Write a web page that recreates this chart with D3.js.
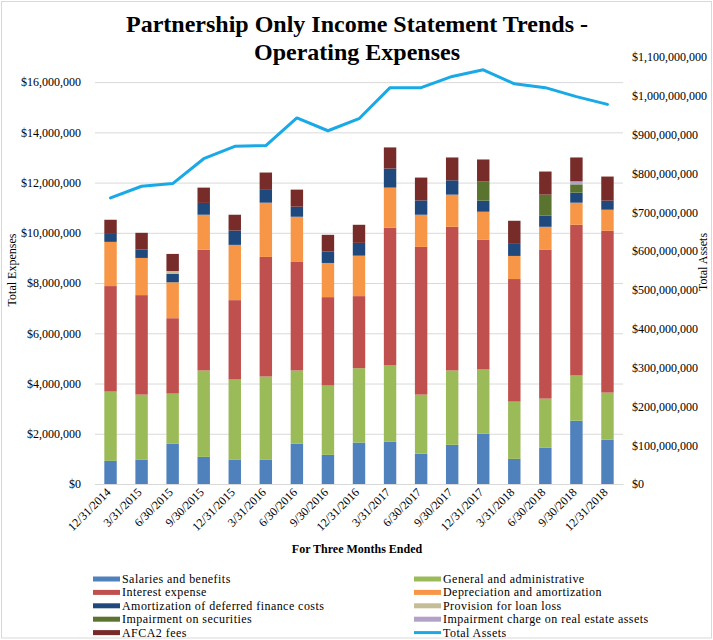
<!DOCTYPE html>
<html lang="en">
<head>
  <meta charset="UTF-8">
  <title>Partnership Only Income Statement Trends - Operating Expenses</title>
  <script src="https://d3js.org/d3.v7.min.js"></script>
  <style>
    body { margin: 0; background: #fff; }
    svg text { font-family: "Liberation Serif", "Times New Roman", serif !important; fill: #000; }
  </style>
</head>
<body>
  <div id="chart"></div>

  <script>
    // Quarter end dates
    const quarters = ["12/31/2014", "3/31/2015", "6/30/2015", "9/30/2015", "12/31/2015", "3/31/2016",
      "6/30/2016", "9/30/2016", "12/31/2016", "3/31/2017", "6/30/2017", "9/30/2017", "12/31/2017",
      "3/31/2018", "6/30/2018", "9/30/2018", "12/31/2018"];

    // Expense series (dollars)
    const salaries = [920000, 960000, 1600000, 1080000, 960000, 960000, 1600000, 1160000, 1650000,
      1690000, 1210000, 1560000, 2000000, 1000000, 1440000, 2520000, 1760000];
    const generalAdmin = [2760000, 2600000, 2000000, 3440000, 3200000, 3320000, 2920000, 2760000, 2960000,
      3030000, 2350000, 2960000, 2560000, 2280000, 1960000, 1800000, 1880000];
    const interest = [4200000, 3960000, 3000000, 4810000, 3160000, 4760000, 4320000, 3520000, 2870000,
      5480000, 5880000, 5720000, 5160000, 4880000, 5920000, 6000000, 6440000];
    const depreciation = [1760000, 1480000, 1430000, 1390000, 2200000, 2160000, 1800000, 1360000, 1610000,
      1600000, 1280000, 1280000, 1120000, 920000, 920000, 880000, 840000];
    const amortization = [350000, 330000, 330000, 470000, 570000, 510000, 400000, 450000, 510000,
      760000, 570000, 570000, 440000, 480000, 440000, 400000, 360000];
    const provision = [0, 0, 120000, 0, 0, 0, 0, 0, 0, 0, 0, 0, 0, 0, 0, 0, 0];
    const impairSecurities = [0, 0, 0, 0, 0, 0, 0, 0, 0, 0, 0, 0, 760000, 0, 840000, 330000, 0];
    const impairRealEstate = [0, 0, 0, 0, 0, 0, 0, 0, 0, 0, 0, 0, 0, 0, 0, 120000, 0];
    const afca2 = [530000, 670000, 680000, 610000, 630000, 690000, 680000, 670000, 720000,
      840000, 910000, 910000, 880000, 920000, 920000, 950000, 960000];

    // Total assets (dollars), right axis
    const totalAssets = [737e6, 767e6, 774e6, 838e6, 870e6, 872e6, 943e6, 910e6, 941e6,
      1021e6, 1021e6, 1050e6, 1067e6, 1031e6, 1021e6, 998e6, 978e6];

    const leftTicks = [0, 2e6, 4e6, 6e6, 8e6, 10e6, 12e6, 14e6, 16e6];
    const rightTicks = d3.range(0, 1.1e9 + 1, 1e8);

    const series = [
      { key: "salaries", name: "Salaries and benefits", color: "#4F81BD", values: salaries },
      { key: "ga", name: "General and administrative", color: "#9BBB59", values: generalAdmin },
      { key: "interest", name: "Interest expense", color: "#C0504D", values: interest },
      { key: "dep", name: "Depreciation and amortization", color: "#F79646", values: depreciation },
      { key: "amort", name: "Amortization of deferred finance costs", color: "#1F497D", values: amortization },
      { key: "prov", name: "Provision for loan loss", color: "#C4BD97", values: provision },
      { key: "impSec", name: "Impairment on securities", color: "#5A7430", values: impairSecurities },
      { key: "impRE", name: "Impairment charge on real estate assets", color: "#B3A2C7", values: impairRealEstate },
      { key: "afca2", name: "AFCA2 fees", color: "#772C2A", values: afca2 }
    ];
    const lineColor = "#19A9E6";
    const serif = "'Liberation Serif', 'Times New Roman', serif";

    const table = quarters.map((q, i) => {
      const row = { quarter: q };
      series.forEach(s => { row[s.key] = s.values[i]; });
      return row;
    });

    const W = 713, H = 640;
    const plot = { left: 95, right: 623, top: 57, bottom: 484 };

    const svg = d3.select("#chart").append("svg")
      .attr("width", W)
      .attr("height", H);

    // chart border
    svg.append("rect")
      .attr("x", 1.5).attr("y", 1.5)
      .attr("width", W - 3).attr("height", H - 3.5)
      .attr("fill", "none")
      .attr("stroke", "#D9D9D9");

    const x = d3.scaleBand()
      .domain(quarters)
      .range([plot.left, plot.right])
      .paddingInner(0.6)
      .paddingOuter(0.3);

    const y = d3.scaleLinear()
      .domain([0, 17e6])
      .range([plot.bottom, plot.top]);

    const y2 = d3.scaleLinear()
      .domain([0, 1.1e9])
      .range([plot.bottom, plot.top]);

    // gridlines
    svg.append("g")
      .attr("transform", `translate(${plot.left},0)`)
      .call(d3.axisLeft(y).tickValues(leftTicks).tickSize(-(plot.right - plot.left)).tickFormat(""))
      .call(g => g.select(".domain").remove())
      .call(g => g.selectAll("line").attr("stroke", "#D9D9D9"));

    // left axis labels
    const fmt = d3.format("$,.0f");
    svg.append("g")
      .attr("transform", `translate(${plot.left},0)`)
      .call(d3.axisLeft(y).tickValues(leftTicks).tickSize(0).tickPadding(14).tickFormat(fmt))
      .attr("font-family", serif)
      .call(g => g.select(".domain").remove())
      .call(g => g.selectAll("text").style("font-size", "12px").style("font-family", serif));

    // right axis labels
    svg.append("g")
      .attr("transform", `translate(${plot.right},0)`)
      .call(d3.axisRight(y2).tickValues(rightTicks).tickSize(0).tickPadding(9).tickFormat(fmt))
      .attr("font-family", serif)
      .call(g => g.select(".domain").remove())
      .call(g => g.selectAll("text").style("font-size", "12px").style("font-family", serif));

    // stacked bars
    const stacked = d3.stack().keys(series.map(s => s.key))(table);
    svg.append("g")
      .selectAll("g")
      .data(stacked)
      .join("g")
      .attr("fill", (d, i) => series[i].color)
      .selectAll("rect")
      .data(d => d)
      .join("rect")
      .attr("x", d => x(d.data.quarter))
      .attr("y", d => y(d[1]))
      .attr("width", x.bandwidth())
      .attr("height", d => y(d[0]) - y(d[1]));

    // x axis
    svg.append("g")
      .attr("transform", `translate(0,${plot.bottom})`)
      .call(d3.axisBottom(x).tickSize(0).tickPadding(0))
      .attr("font-family", serif)
      .call(g => g.select(".domain").attr("stroke", "#D9D9D9"))
      .call(g => g.selectAll("text")
        .style("font-size", "12px")
        .style("font-family", serif)
        .attr("text-anchor", "end")
        .attr("dy", "0")
        .attr("transform", "translate(1,9) rotate(-45)"));

    // total assets line
    const line = d3.line()
      .x((d, i) => x(quarters[i]) + x.bandwidth() / 2)
      .y(d => y2(d));

    svg.append("path")
      .datum(totalAssets)
      .attr("fill", "none")
      .attr("stroke", lineColor)
      .attr("stroke-width", 3)
      .attr("stroke-linejoin", "round")
      .attr("stroke-linecap", "round")
      .attr("d", line);

    // title
    svg.append("text")
      .attr("x", 357).attr("y", 32)
      .attr("text-anchor", "middle")
      .attr("font-size", 24).attr("font-weight", "bold")
      .text("Partnership Only Income Statement Trends -");
    svg.append("text")
      .attr("x", 357).attr("y", 60)
      .attr("text-anchor", "middle")
      .attr("font-size", 24).attr("font-weight", "bold")
      .text("Operating Expenses");

    // axis titles
    svg.append("text")
      .attr("transform", "translate(16,270) rotate(-90)")
      .attr("text-anchor", "middle")
      .attr("font-size", 12)
      .text("Total Expenses");
    svg.append("text")
      .attr("transform", "translate(707,262) rotate(-90)")
      .attr("text-anchor", "middle")
      .attr("font-size", 12)
      .text("Total Assets");
    svg.append("text")
      .attr("x", 357).attr("y", 553)
      .attr("text-anchor", "middle")
      .attr("font-size", 12).attr("font-weight", "bold")
      .text("For Three Months  Ended");

    // legend
    const legendItems = series.map(s => ({ name: s.name, color: s.color, type: "bar" }))
      .concat([{ name: "Total Assets", color: lineColor, type: "line" }]);
    const legend = svg.append("g");
    legendItems.forEach((d, i) => {
      const col = i % 2, row = Math.floor(i / 2);
      const lx = col === 0 ? 93 : 414;
      const ly = 579 + row * 13.4;
      if (d.type === "bar") {
        legend.append("rect")
          .attr("x", lx).attr("y", ly - 2.5)
          .attr("width", 27).attr("height", 5)
          .attr("fill", d.color);
      } else {
        legend.append("line")
          .attr("x1", lx).attr("x2", lx + 27)
          .attr("y1", ly).attr("y2", ly)
          .attr("stroke", d.color).attr("stroke-width", 3);
      }
      legend.append("text")
        .attr("x", lx + 29).attr("y", ly + 4)
        .attr("font-size", 12)
        .attr("letter-spacing", 0.45)
        .text(d.name);
    });
  </script>
</body>
</html>
